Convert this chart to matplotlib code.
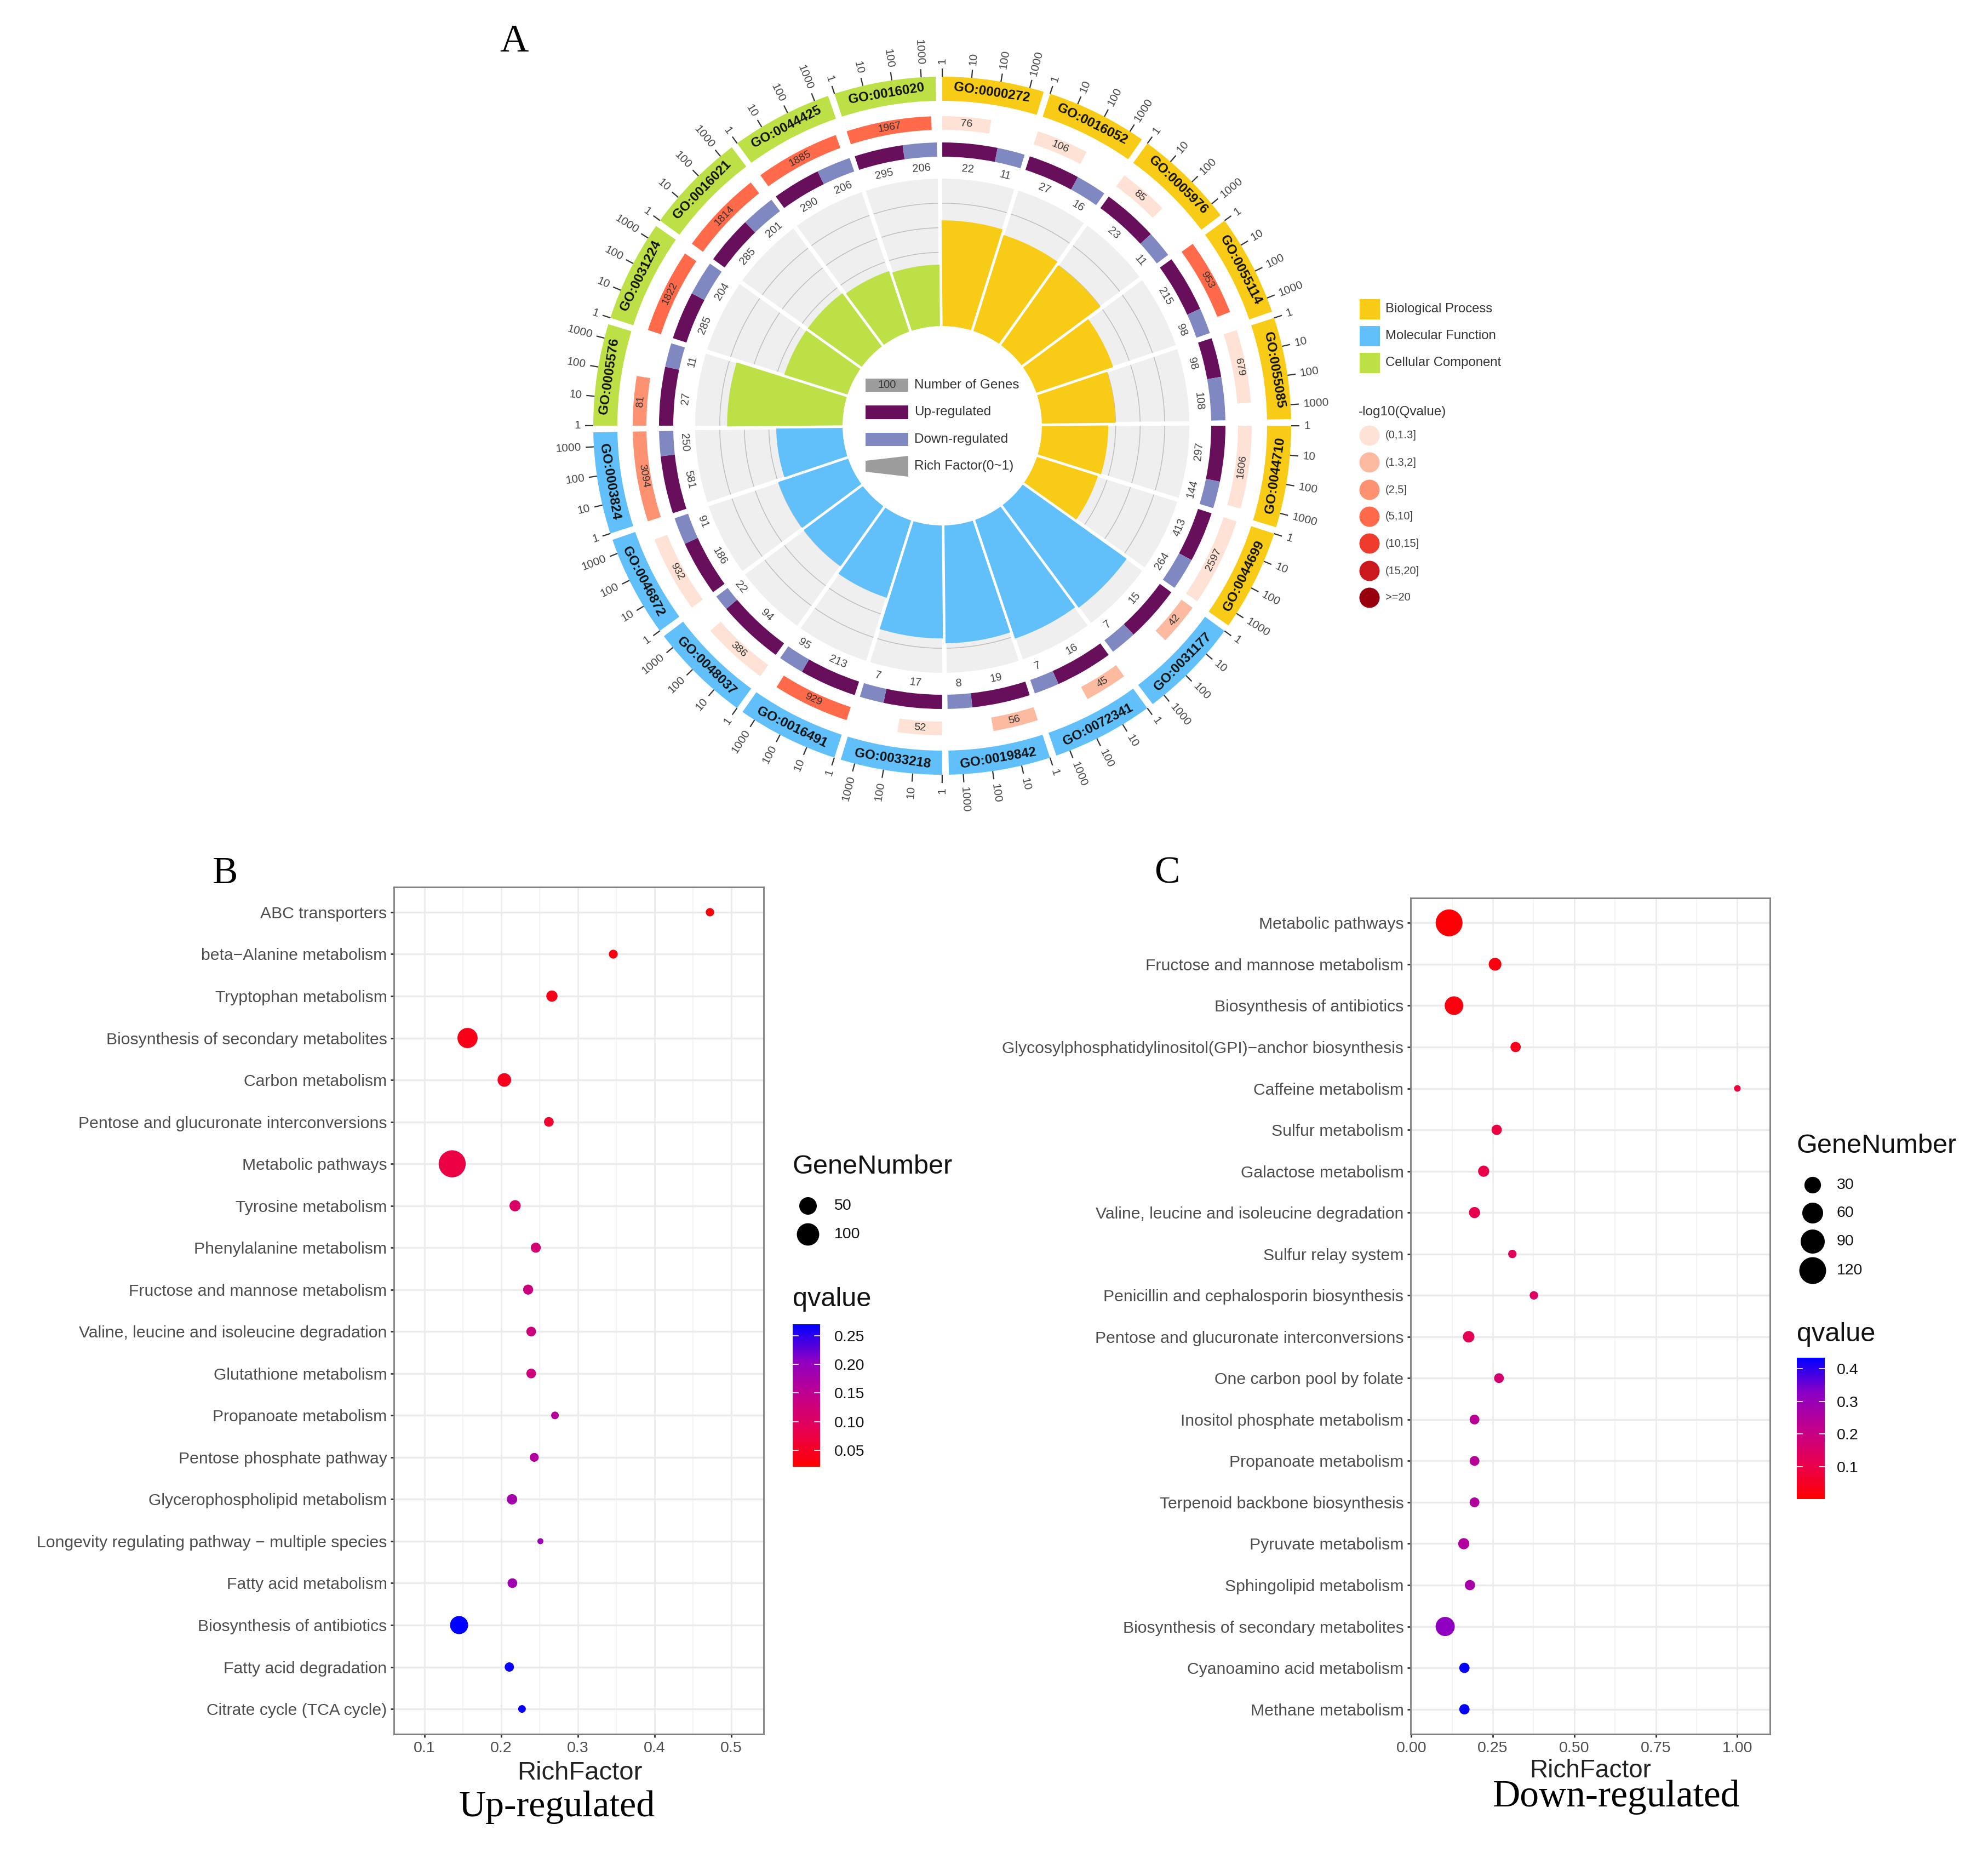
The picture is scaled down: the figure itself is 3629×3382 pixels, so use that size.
import numpy as np
import matplotlib
matplotlib.use('Agg')
import matplotlib.pyplot as plt
from matplotlib.cm import ScalarMappable
from matplotlib.colors import LinearSegmentedColormap, Normalize
from matplotlib.patches import Circle, Polygon, Rectangle

WIDTH, HEIGHT = 3630, 3382

# panel A
go_terms = ['GO:0000272', 'GO:0016052', 'GO:0005976', 'GO:0055114', 'GO:0055085', 'GO:0044710', 'GO:0044699',
            'GO:0031177', 'GO:0072341', 'GO:0019842', 'GO:0033218', 'GO:0016491', 'GO:0048037', 'GO:0046872',
            'GO:0003824', 'GO:0005576', 'GO:0031224', 'GO:0016021', 'GO:0044425', 'GO:0016020']
go_class = ['BP'] * 7 + ['MF'] * 8 + ['CC'] * 5
go_counts = [76, 106, 85, 953, 679, 1606, 2597, 42, 45, 56, 52, 929, 386, 932, 3094, 81, 1822, 1814, 1885, 1967]
go_qbin = [0, 0, 0, 3, 0, 0, 0, 1, 1, 1, 0, 3, 0, 0, 2, 2, 3, 3, 3, 3]
go_up = [22, 27, 23, 215, 98, 297, 413, 15, 16, 19, 17, 213, 94, 186, 581, 27, 285, 285, 290, 295]
go_down = [11, 16, 11, 98, 108, 144, 264, 7, 7, 8, 7, 95, 22, 91, 250, 11, 204, 201, 206, 206]
go_rich = [0.43, 0.41, 0.40, 0.33, 0.30, 0.27, 0.26, 0.52, 0.51, 0.48, 0.46, 0.33, 0.30, 0.30, 0.27, 0.47, 0.27,
           0.27, 0.26, 0.25]
class_names = ['Biological Process', 'Molecular Function', 'Cellular Component']
qbin_labels = ['(0,1.3]', '(1.3,2]', '(2,5]', '(5,10]', '(10,15]', '(15,20]', '>=20']
axis_ticks = [1, 10, 100, 1000]
rich_grid = [0.3, 0.4, 0.5]

# panel B
up_terms = ['ABC transporters', 'beta\u2212Alanine metabolism', 'Tryptophan metabolism',
            'Biosynthesis of secondary metabolites', 'Carbon metabolism', 'Pentose and glucuronate interconversions',
            'Metabolic pathways', 'Tyrosine metabolism', 'Phenylalanine metabolism', 'Fructose and mannose metabolism',
            'Valine, leucine and isoleucine degradation', 'Glutathione metabolism', 'Propanoate metabolism',
            'Pentose phosphate pathway', 'Glycerophospholipid metabolism',
            'Longevity regulating pathway \u2212 multiple species', 'Fatty acid metabolism',
            'Biosynthesis of antibiotics', 'Fatty acid degradation', 'Citrate cycle (TCA cycle)']
up_rich = [0.472, 0.346, 0.266, 0.156, 0.204, 0.262, 0.136, 0.218, 0.245, 0.235, 0.239, 0.239, 0.27, 0.243, 0.214,
           0.251, 0.2145, 0.145, 0.2105, 0.227]
up_genes = [3, 4, 11, 75, 22, 6, 165, 11, 7, 7, 6, 6, 2, 4, 8, 1, 6, 55, 5, 2]
up_q = [0.03, 0.035, 0.04, 0.04, 0.045, 0.06, 0.075, 0.105, 0.12, 0.13, 0.13, 0.13, 0.16, 0.165, 0.18, 0.19, 0.185,
        0.27, 0.265, 0.265]

# panel C
down_terms = ['Metabolic pathways', 'Fructose and mannose metabolism', 'Biosynthesis of antibiotics',
              'Glycosylphosphatidylinositol(GPI)\u2212anchor biosynthesis', 'Caffeine metabolism', 'Sulfur metabolism',
              'Galactose metabolism', 'Valine, leucine and isoleucine degradation', 'Sulfur relay system',
              'Penicillin and cephalosporin biosynthesis', 'Pentose and glucuronate interconversions',
              'One carbon pool by folate', 'Inositol phosphate metabolism', 'Propanoate metabolism',
              'Terpenoid backbone biosynthesis', 'Pyruvate metabolism', 'Sphingolipid metabolism',
              'Biosynthesis of secondary metabolites', 'Cyanoamino acid metabolism', 'Methane metabolism']
down_rich = [0.116, 0.257, 0.131, 0.32, 1.0, 0.262, 0.222, 0.194, 0.31, 0.376, 0.176, 0.269, 0.194, 0.194, 0.194,
             0.161, 0.18, 0.104, 0.163, 0.163]
down_genes = [120, 12, 43, 5, 1, 5, 7, 7, 2, 2, 8, 4, 4, 4, 4, 7, 5, 47, 5, 5]
down_q = [0.01, 0.02, 0.02, 0.04, 0.08, 0.09, 0.10, 0.11, 0.13, 0.14, 0.12, 0.16, 0.235, 0.24, 0.25, 0.25, 0.27,
          0.32, 0.43, 0.43]

CLASS_COLORS = {'BP': '#F7CB16', 'MF': '#61C0FA', 'CC': '#BDE046'}
QBIN_COLORS = ['#FEE2D5', '#FCBBA1', '#FC9272', '#FF6A4A', '#EF3B2C', '#CB181D', '#99000D']
UP_COLOR = '#680F5C'
DOWN_COLOR = '#8088C2'
SANS = ['Liberation Sans']
SERIF = ['Liberation Serif']
GREY_TEXT = '#4D4D4D'

R_HOLE, R_GREY = 182, 451
R_UPDOWN = (491, 517)
R_COUNT = (540, 565)
R_GO = (593, 637)
RICH_MAX = 0.6
PAD = 0.55
DEG_PER_DECADE = (18 - 2 * PAD) / np.log10(3094)
ROTATED = 0.54

q_cmap = LinearSegmentedColormap.from_list(
    'q', ['#FF0000', '#E8004F', '#C2008C', '#8C00C4', '#0000FF'])

plt.rcParams['font.family'] = SANS
fig = plt.figure(figsize=(WIDTH / 100, HEIGHT / 100), dpi=100)
fig.patch.set_facecolor('white')


def rich_radius(rich):
    return R_HOLE + rich / RICH_MAX * (R_GREY - R_HOLE)


def flat_rotation(deg):
    # labels along the ring, kept upright
    deg = deg % 360
    rot = -deg if (deg < 90 or deg > 270) else 180 - deg
    return rot + ROTATED


def radial_label(ax, deg, radius, label):
    deg = deg % 360
    up = 90 - deg + ROTATED
    if deg <= 180:
        ax.text(np.radians(deg), radius, label, rotation=up, rotation_mode='anchor', ha='left', va='center',
                fontsize=15, color='#444444')
    else:
        ax.text(np.radians(deg), radius, label, rotation=up + 180, rotation_mode='anchor', ha='right', va='center',
                fontsize=15, color='#444444')


def arc(ax, start, width, r0, r1, color, zorder=1):
    ax.bar(np.radians(start + width / 2), r1 - r0, width=np.radians(width), bottom=r0, color=color, linewidth=0,
           zorder=zorder)


def draw_circle_panel():
    half = 760
    cx, cy = 1720, 777
    ax = fig.add_axes([(cx - half) / WIDTH, 1 - (cy + half) / HEIGHT, 2 * half / WIDTH, 2 * half / HEIGHT],
                      projection='polar')
    ax.set_theta_zero_location('N')
    ax.set_theta_direction(-1)
    ax.set_theta_offset(np.pi / 2 + np.radians(ROTATED))
    ax.set_ylim(0, half)
    ax.axis('off')

    for i, term in enumerate(go_terms):
        start = i * 18
        s = start + PAD
        span = 18 - 2 * PAD
        mid = start + 9
        color = CLASS_COLORS[go_class[i]]

        # outer ring with the log axis
        arc(ax, s, span, R_GO[0], R_GO[1], color)
        ax.text(np.radians(mid), sum(R_GO) / 2, term, rotation=flat_rotation(mid), rotation_mode='anchor',
                ha='center', va='center', fontsize=17.5, fontweight='bold', color='#111111')
        for tick in axis_ticks:
            a = s + np.log10(tick) * DEG_PER_DECADE
            ax.plot(np.radians([a, a]), [R_GO[1], R_GO[1] + 15], color='#333333', lw=1.6, solid_capstyle='butt')
            radial_label(ax, a, R_GO[1] + 23, str(tick))

        # gene count ring
        count_span = np.log10(go_counts[i]) * DEG_PER_DECADE
        arc(ax, s, count_span, R_COUNT[0], R_COUNT[1], QBIN_COLORS[go_qbin[i]])
        a = s + count_span / 2
        ax.text(np.radians(a), sum(R_COUNT) / 2, str(go_counts[i]), rotation=flat_rotation(a), rotation_mode='anchor',
                ha='center', va='center', fontsize=14, color='#333333')

        # up and down ring
        up_span = span * go_up[i] / (go_up[i] + go_down[i])
        arc(ax, s, up_span, R_UPDOWN[0], R_UPDOWN[1], UP_COLOR)
        arc(ax, s + up_span, span - up_span, R_UPDOWN[0], R_UPDOWN[1], DOWN_COLOR)
        for a, val in ((s + up_span / 2, go_up[i]), (s + up_span + (span - up_span) / 2, go_down[i])):
            ax.text(np.radians(a), 471, str(val), rotation=flat_rotation(a), rotation_mode='anchor',
                    ha='center', va='center', fontsize=14.5, color='#444444')

        # rich factor sector
        arc(ax, start, 18, R_HOLE, R_GREY, '#EFEFEF', zorder=1)

    theta = np.radians(np.linspace(0, 360, 721))
    for rich in rich_grid:
        ax.plot(theta, np.full_like(theta, rich_radius(rich)), color='#BEBEBE', lw=1.1, zorder=1.2)
    for i in range(20):
        a = np.radians(i * 18)
        ax.plot([a, a], [R_HOLE - 5, R_GREY + 5], color='white', lw=5.6, solid_capstyle='butt', zorder=1.4)
    for i in range(20):
        arc(ax, i * 18, 18, R_HOLE, rich_radius(go_rich[i]), CLASS_COLORS[go_class[i]], zorder=1.6)
    for i in range(20):
        a = np.radians(i * 18)
        ax.plot([a, a], [R_HOLE - 5, R_GREY], color='white', lw=3.4, solid_capstyle='butt', zorder=1.8)


def draw_overlay():
    ax = fig.add_axes([0, 0, 1, 1], zorder=5)
    ax.set_xlim(0, WIDTH)
    ax.set_ylim(HEIGHT, 0)
    ax.axis('off')

    # centre legend
    ax.add_patch(Rectangle((1580, 691), 78, 24, color='#9C9C9C', lw=0))
    ax.text(1619, 703, '100', ha='center', va='center', fontsize=14.5, color='#333333')
    ax.add_patch(Rectangle((1580, 740), 78, 25, color=UP_COLOR, lw=0))
    ax.add_patch(Rectangle((1580, 790), 78, 24, color=DOWN_COLOR, lw=0))
    ax.add_patch(Polygon([(1580, 841), (1658, 832), (1658, 870), (1580, 861)], color='#9C9C9C', lw=0))
    for y, label in zip([703, 752, 802, 851],
                        ['Number of Genes', 'Up-regulated', 'Down-regulated', 'Rich Factor(0~1)']):
        ax.text(1669, y, label, ha='left', va='center', fontsize=17.5, color='#333333')

    # class legend
    for y, name, key in zip([546, 595, 644], class_names, ['BP', 'MF', 'CC']):
        ax.add_patch(Rectangle((2482, y), 37, 37, color=CLASS_COLORS[key], lw=0))
        ax.text(2529, y + 18, name, ha='left', va='center', fontsize=17.2, color='#333333')
    ax.text(2480, 752, '-log10(Qvalue)', ha='left', va='center', fontsize=17.5, color='#333333')
    for y, label, color in zip([795, 844, 894, 943, 992, 1042, 1091], qbin_labels, QBIN_COLORS):
        ax.add_patch(Circle((2500, y), 18.5, color=color, lw=0))
        ax.text(2529, y, label, ha='left', va='center', fontsize=14.5, color='#444444')

    # panel letters and captions
    ax.text(912, 94, 'A', family=SERIF, fontsize=52, ha='left', va='baseline', color='black')
    ax.text(388, 1612, 'B', family=SERIF, fontsize=50, ha='left', va='baseline', color='black')
    ax.text(2107, 1612, 'C', family=SERIF, fontsize=50, ha='left', va='baseline', color='black')
    ax.text(1017, 3315, 'Up-regulated', family=SERIF, fontsize=49, ha='center', va='baseline', color='black')
    ax.text(2951, 3297, 'Down-regulated', family=SERIF, fontsize=50, ha='center', va='baseline', color='black')
    return ax


def draw_dots(box, terms, rich, genes, q, xlim, xticks, xminor, xfmt, qlim, dmin, k, label_pad):
    left, top, right, bottom = box
    ax = fig.add_axes([left / WIDTH, 1 - bottom / HEIGHT, (right - left) / WIDTH, (bottom - top) / HEIGHT])
    ys = np.arange(len(terms))
    ax.set_xlim(*xlim)
    ax.set_ylim(len(terms) - 0.4, -0.6)
    ax.set_axisbelow(True)
    ax.grid(True, axis='y', color='#EBEBEB', lw=2.4)
    ax.grid(True, axis='x', which='major', color='#EBEBEB', lw=2.0)
    ax.set_xticks(xticks)
    ax.set_xticks(xminor, minor=True)
    ax.grid(True, axis='x', which='minor', color='#F2F2F2', lw=1.2)
    ax.tick_params(axis='x', which='minor', length=0)
    ax.set_xticklabels([xfmt % t for t in xticks], fontsize=20.5, color=GREY_TEXT)
    ax.set_yticks(ys)
    ax.set_yticklabels(terms, fontsize=21.7, color=GREY_TEXT)
    ax.tick_params(axis='both', which='major', length=4, width=2, color='#333333', pad=label_pad)
    for spine in ax.spines.values():
        spine.set_color('#7F7F7F')
        spine.set_linewidth(2)

    diam = dmin + k * np.sqrt(np.array(genes) - 1)
    ax.scatter(rich, ys, s=(diam * 0.72) ** 2, c=q, cmap=q_cmap, vmin=qlim[0], vmax=qlim[1], linewidths=0, zorder=3)
    return ax


def draw_legend(overlay, x, title_y, key_x, label_x, keys, key_ys, dmin, k, q_y, cbar_box, qlim, qticks, qfmt):
    overlay.text(x, title_y, 'GeneNumber', fontsize=35, ha='left', va='center', color='#111111')
    for key, y in zip(keys, key_ys):
        overlay.add_patch(Circle((key_x, y), (dmin + k * np.sqrt(key - 1)) / 2, color='black', lw=0))
        overlay.text(label_x, y, str(key), fontsize=20.5, ha='left', va='center', color='#111111')
    overlay.text(x, q_y, 'qvalue', fontsize=35, ha='left', va='center', color='#111111')

    left, top, right, bottom = cbar_box
    cax = fig.add_axes([left / WIDTH, 1 - bottom / HEIGHT, (right - left) / WIDTH, (bottom - top) / HEIGHT])
    cb = fig.colorbar(ScalarMappable(Normalize(*qlim), q_cmap), cax=cax)
    cb.outline.set_visible(False)
    cb.set_ticks(qticks)
    cb.set_ticklabels([qfmt % t for t in qticks], fontsize=20.5, color='#111111')
    cax.tick_params(length=0, pad=(label_x - right) * 0.72)
    for t in qticks:
        cax.plot([0, 0.2], [t, t], color='white', lw=1.2, transform=cax.get_yaxis_transform())
        cax.plot([0.8, 1], [t, t], color='white', lw=1.2, transform=cax.get_yaxis_transform())


draw_circle_panel()
overlay = draw_overlay()

draw_dots((719, 1619, 1394, 3165), up_terms, up_rich, up_genes, up_q, (0.06, 0.542),
          [0.1, 0.2, 0.3, 0.4, 0.5], [0.15, 0.25, 0.35, 0.45], '%.1f', (0.0214, 0.2697), 11, 3.0, 5)
draw_legend(overlay, 1447, 2130, 1475, 1523, [50, 100], [2201, 2253], 11, 3.0, 2372,
            (1447, 2417, 1497, 2677), (0.0214, 0.2697), [0.05, 0.10, 0.15, 0.20, 0.25], '%.2f')

draw_dots((2575, 1639, 3231, 3165), down_terms, down_rich, down_genes, down_q, (-0.002, 1.1),
          [0, 0.25, 0.5, 0.75, 1.0], [0.125, 0.375, 0.625, 0.875], '%.2f', (0.0, 0.434), 12, 3.39, 5)
draw_legend(overlay, 3280, 2092, 3309, 3353, [30, 60, 90, 120], [2163, 2214, 2266, 2319], 12, 3.39, 2435,
            (3280, 2478, 3331, 2736), (0.0, 0.434), [0.1, 0.2, 0.3, 0.4], '%.1f')

# axis titles sit under the panels
overlay.text(1058, 3236, 'RichFactor', fontsize=34, ha='center', va='center', color='#222222')
overlay.text(2903, 3232, 'RichFactor', fontsize=33, ha='center', va='center', color='#222222')

fig.savefig('out.png', dpi=100, facecolor='white')
